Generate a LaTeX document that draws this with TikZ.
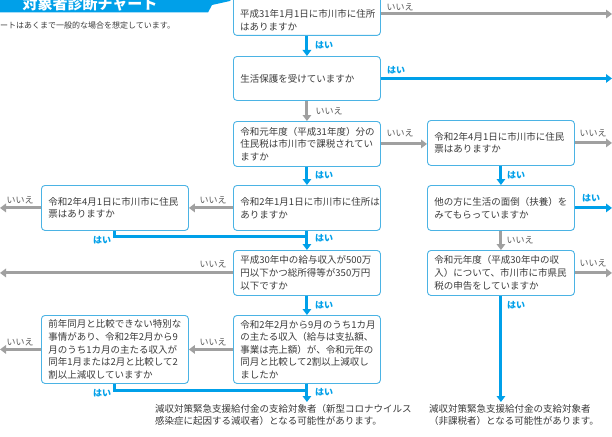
\documentclass[tikz,border=0pt]{standalone}
\usepackage{fontspec}
\setmainfont{Noto Sans CJK JP}
\usetikzlibrary{arrows.meta,calc}
\definecolor{cblue}{HTML}{00A0E9}
\definecolor{cgrey}{HTML}{A0A0A0}
\definecolor{cbox}{HTML}{4BB3E4}
\definecolor{ctxt}{HTML}{3A3A3A}
\definecolor{cno}{HTML}{595959}
\newcommand{\qfont}{\fontsize{9.5}{12.6}\selectfont}
\begin{document}
\begin{tikzpicture}[x=1pt,y=-1pt,
 qtext/.style={text width=133pt, inner xsep=7pt, inner ysep=0pt, align=left, font=\qfont, text=ctxt},
 qbox/.style={qtext, draw=cbox, line width=0.9pt, rounded corners=3.5pt, fill=white, anchor=north west},
 bline/.style={draw=cblue, line width=3pt},
 gline/.style={draw=cgrey, line width=3pt},
 tip/.style={-{Triangle[length=6pt,width=8.5pt]}},
 yes/.style={text=cblue, font=\fontsize{9}{10}\selectfont\bfseries, inner sep=0pt},
 no/.style={text=cno, font=\fontsize{9}{10}\selectfont, inner sep=0pt},
 note/.style={text=ctxt, font=\qfont, align=left, inner sep=0pt, anchor=north west}]
\clip (0,0) rectangle (612,436);
\fill[white] (0,0) rectangle (612,436);
% title
\fill[cblue] (-1,-5) -- (234,-5) -- (230,1) -- (212,5) -- (208,12.5) -- (-1,12.5) -- cycle;
\node[text=white, font=\fontsize{15}{15}\selectfont\bfseries, inner sep=0pt] (title) at (90,3.5) {対象者診断チャート};
\node[anchor=west, font=\fontsize{8}{9}\selectfont, text=ctxt, inner sep=0pt] (sub) at (0,25) {ートはあくまで一般的な場合を想定しています。};
% boxes
\node[qbox, minimum height=46pt] (b1) at (233,-11) {};
\node[qtext, anchor=west] (b1t) at (233,20) {平成31年1月1日に市川市に住所\\はありますか};
\node[qbox, minimum height=44pt] (b2) at (233,56) {生活保護を受けていますか};
\node[qbox, minimum height=45pt] (b3) at (233,121) {令和元年度（平成31年度）分の\\住民税は市川市で課税されてい\\ますか};
\node[qbox, minimum height=45pt] (b4) at (427,120) {令和2年4月1日に市川市に住民\\票はありますか};
\node[qbox, minimum height=45pt] (b5) at (233,185) {令和2年1月1日に市川市に住所は\\ありますか};
\node[qbox, minimum height=45pt] (b7) at (41,185) {令和2年4月1日に市川市に住民\\票はありますか};
\node[qbox, minimum height=45pt] (b6) at (427,185) {他の方に生活の面倒（扶養）を\\みてもらっていますか};
\node[qbox, minimum height=45pt] (b8) at (233,250) {平成30年中の給与収入が500万\\円以下かつ総所得等が350万円\\以下ですか};
\node[qbox, minimum height=45pt] (b9) at (427,250) {令和元年度（平成30年中の収\\入）について、市川市に市県民\\税の申告をしていますか};
\node[qbox, minimum height=68pt] (b10) at (233,315) {令和2年2月から9月のうち1カ月\\の主たる収入（給与は支払額、\\事業は売上額）が、令和元年の\\同月と比較して2割以上減収し\\ましたか};
\node[qbox, minimum height=68pt] (b11) at (41,315) {前年同月と比較できない特別な\\事情があり、令和2年2月から9\\月のうち1カ月の主たる収入が\\同年1月または2月と比較して2\\割以上減収していますか};
% coordinates
\coordinate (R) at (612,0);
\coordinate (L) at (0,0);
\coordinate (r1) at (612,14);
\coordinate (j1) at ($(b5.south)+(0,6)$);
\coordinate (j2) at ($(b10.south)+(0,7)$);
\coordinate (e9) at (b9.south |- 0,402);
\coordinate (e10) at (b10.south |- 0,402);
% connectors
\draw[gline,tip] (b1.east |- r1) -- (r1);
\draw[bline,tip] (b1.south) -- (b2.north);
\draw[bline,tip] (b2.east) -- (b2.east -| R);
\draw[gline,tip] (b2.south) -- (b3.north);
\draw[gline,tip] (b3.east) -- (b3.east -| b4.west);
\draw[gline,tip] (b4.east) -- (b4.east -| R);
\draw[bline,tip] (b3.south) -- (b5.north);
\draw[bline,tip] (b4.south) -- (b6.north);
\draw[gline,tip] (b5.west) -- (b7.east);
\draw[gline,tip] (b7.west) -- (b7.west -| L);
\draw[bline,tip] (b6.east) -- (b6.east -| R);
\draw[gline,tip] (b6.south) -- (b9.north);
\draw[bline,tip] (b5.south) -- (b8.north);
\draw[bline] (b7.south) |- (j1);
\draw[gline,tip] (b8.west) -- (b8.west -| L);
\draw[bline,tip] (b8.south) -- (b10.north);
\draw[gline,tip] (b9.east) -- (b9.east -| R);
\draw[bline,tip] (b9.south) -- (e9);
\draw[gline,tip] (b10.west) -- (b11.east);
\draw[gline,tip] (b11.west) -- (b11.west -| L);
\draw[bline,tip] (b10.south) -- (e10);
\draw[bline] (b11.south) |- (j2);
% labels
\node[no] (n1) at (400,7) {いいえ};
\node[yes] (y1) at (324,45) {はい};
\node[yes] (y2) at (396,70) {はい};
\node[no] (n2) at (329,111) {いいえ};
\node[no] (n3) at (400,133) {いいえ};
\node[no] (n4) at (593,133) {いいえ};
\node[yes] (y3) at (516,175) {はい};
\node[yes] (y6) at (324,175) {はい};
\node[no] (n7) at (213,200) {いいえ};
\node[no] (n8) at (20,200) {いいえ};
\node[yes] (y4) at (591,198) {はい};
\node[yes] (y7) at (102,240) {はい};
\node[yes] (y8) at (324,238) {はい};
\node[no] (n5) at (520,240) {いいえ};
\node[no] (n9) at (213,264) {いいえ};
\node[no] (n6) at (593,263) {いいえ};
\node[yes] (y9) at (324,305) {はい};
\node[yes] (y5) at (516,305) {はい};
\node[no] (n10) at (213,342) {いいえ};
\node[no] (n11) at (20,342) {いいえ};
\node[yes] (y10) at (324,392) {はい};
\node[yes] (y11) at (102,393) {はい};
% bottom notes
\node[note] (t1) at (155,404) {減収対策緊急支援給付金の支給対象者（新型コロナウイルス\\感染症に起因する減収者）となる可能性があります。};
\node[note] (t2) at (429,404) {減収対策緊急支援給付金の支給対象者\\（非課税者）となる可能性があります。};
\end{tikzpicture}
\end{document}
